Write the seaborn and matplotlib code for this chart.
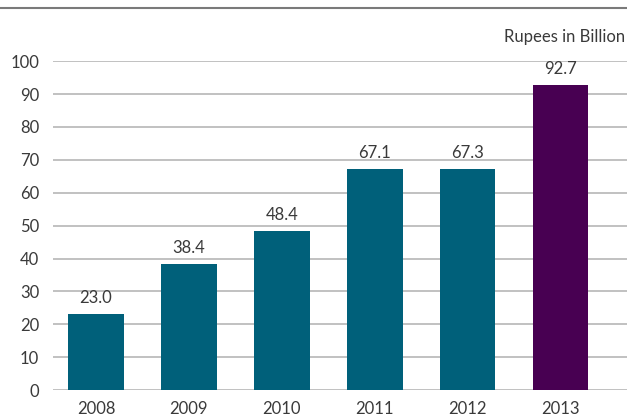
import pandas as pd
import seaborn as sns
import matplotlib.pyplot as plt

years = ['2008', '2009', '2010', '2011', '2012', '2013']
values = [23.0, 38.4, 48.4, 67.1, 67.3, 92.7]
bar_colors = ['#00607a', '#00607a', '#00607a', '#00607a', '#00607a', '#480052']
yticks = [0, 10, 20, 30, 40, 50, 60, 70, 80, 90, 100]

df = pd.DataFrame({'Year': years, 'Value': values})

sns.set_style('white')
plt.rcParams['font.family'] = ['Lato', 'DejaVu Sans']

fig = plt.figure(figsize=(6.27, 4.19), dpi=100)
ax = fig.add_axes([0.0845, 0.069, 0.9155, 0.785])

sns.barplot(data=df, x='Year', y='Value', hue='Year', palette=bar_colors,
            width=0.6, saturation=1, linewidth=0, legend=False, ax=ax, zorder=3)

# value labels
for i, v in enumerate(values):
    ax.text(i, v + 2.5, f'{v:.1f}', ha='center', va='bottom', fontsize=12,
            color='#3a3a3a')

ax.set_ylim(0, 100)
ax.set_xlim(-0.463, 5.716)
ax.set_yticks(yticks)
ax.yaxis.grid(True, color='#b0b0b0', linewidth=1.1, zorder=0)
ax.set_xlabel('')
ax.set_ylabel('')
for s in ax.spines.values():
    s.set_visible(False)
ax.tick_params(axis='both', length=0, labelsize=12, labelcolor='#3a3a3a')
ax.tick_params(axis='y', pad=10)
ax.tick_params(axis='x', pad=8)

fig.text(0.997, 0.912, 'Rupees in Billion', ha='right', va='center',
         fontsize=12, color='#3a3a3a')
# top rule
fig.add_artist(plt.Line2D([0, 1], [0.981, 0.981], color='#7a7a7a', linewidth=1.5))

plt.savefig('out.png', dpi=100)
